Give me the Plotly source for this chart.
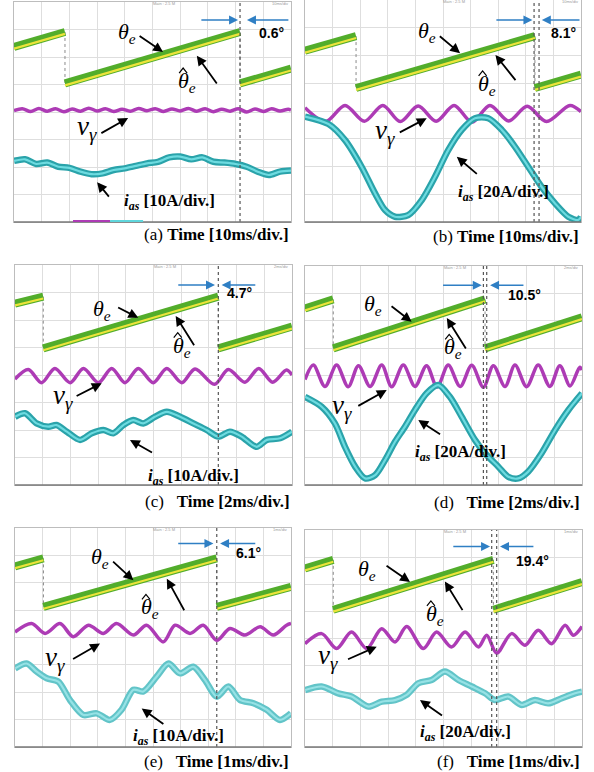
import plotly.graph_objects as go

W, H = 594, 772

# ---------------- data (oscilloscope divisions: x 0..10, y 0..8) ----------------
panel_ids = ["a", "b", "c", "d", "e", "f"]

# rotor angle sawtooth θe (segments separated by None)
a_theta_x = [0, 1.84, None, 1.84, 8.16, None, 8.16, 10]
a_theta_y = [6.37, 6.91, None, 5.04, 6.91, None, 5.04, 5.58]
b_theta_x = [0, 1.85, None, 1.85, 8.33, None, 8.33, 10]
b_theta_y = [6.17, 6.70, None, 4.83, 6.70, None, 4.83, 5.31]
c_theta_x = [0, 1.02, None, 1.02, 7.34, None, 7.34, 10]
c_theta_y = [6.60, 6.85, None, 4.97, 6.85, None, 4.97, 5.76]
d_theta_x = [0, 1.02, None, 1.02, 6.50, None, 6.50, 10]
d_theta_y = [6.45, 6.78, None, 4.99, 6.78, None, 4.99, 6.13]
e_theta_x = [0, 1.03, None, 1.03, 7.31, None, 7.31, 10]
e_theta_y = [6.60, 6.89, None, 5.12, 6.89, None, 5.12, 5.85]
f_theta_x = [0, 1.02, None, 1.02, 6.80, None, 6.80, 10]
f_theta_y = [6.58, 6.90, None, 5.06, 6.90, None, 5.06, 6.08]

# v_gamma (purple)
a_vy_x = [0, 0.3, 0.6, 0.9, 1.2, 1.5, 1.8, 2.1, 2.4, 2.7, 3.0, 3.3, 3.6, 3.9, 4.2, 4.5, 4.8,
          5.1, 5.4, 5.7, 6.0, 6.3, 6.6, 6.9, 7.2, 7.5, 7.8, 8.1, 8.4, 8.7, 9.0, 9.3, 9.6, 9.9, 10]
a_vy_y = [4.05, 4.12, 4.02, 4.13, 4.03, 4.12, 4.01, 4.11, 4.03, 4.14, 4.04, 4.12, 4.02, 4.10,
          4.03, 4.13, 4.05, 4.12, 4.02, 4.11, 4.04, 4.13, 4.03, 4.12, 4.01, 4.10, 4.03, 4.12,
          4.00, 4.11, 4.02, 4.12, 4.04, 4.10, 4.07]
b_vy_x = [0, 0.75, 1.45, 2.15, 2.82, 3.45, 4.1, 4.75, 5.4, 6.05, 6.7, 7.38, 8.05, 8.75, 9.6, 10]
b_vy_y = [4.12, 3.62, 4.20, 3.63, 4.20, 3.62, 4.18, 3.63, 4.20, 3.60, 4.20, 3.64, 4.17, 3.62, 4.20, 3.98]
c_vy_x = [0, 0.48, 0.96, 1.44, 1.99, 2.47, 3.01, 3.49, 3.97, 4.45, 4.99, 5.48, 6.02, 6.5,
          7.2, 7.7, 8.3, 8.8, 9.3, 9.8, 10]
c_vy_y = [3.85, 4.20, 3.72, 4.24, 3.72, 4.24, 3.72, 4.24, 3.72, 4.24, 3.72, 4.24, 3.72, 4.22,
          3.66, 4.20, 3.74, 4.24, 3.74, 4.18, 4.00]
d_vy_x = [0, 0.30, 0.72, 1.14, 1.56, 1.93, 2.35, 2.77, 3.13, 3.55, 3.97, 4.39, 4.77, 5.17,
          5.6, 6.02, 6.44, 6.8, 7.22, 7.58, 8.0, 8.42, 8.84, 9.2, 9.57, 9.92, 10]
d_vy_y = [3.85, 4.38, 3.60, 4.38, 3.59, 4.36, 3.60, 4.38, 3.59, 4.38, 3.60, 4.36, 3.58, 4.38,
          3.60, 4.37, 3.57, 4.36, 3.60, 4.38, 3.59, 4.38, 3.60, 4.36, 3.62, 4.30, 4.20]
e_vy_x = [0, 0.6, 1.09, 1.63, 2.11, 2.66, 3.2, 3.68, 4.29, 4.77, 5.37, 5.8, 6.34, 6.82,
          7.31, 7.79, 8.33, 8.88, 9.36, 9.84, 10]
e_vy_y = [4.20, 4.51, 4.15, 4.51, 4.03, 4.45, 4.15, 4.51, 4.09, 4.45, 3.84, 4.45, 4.15, 4.45,
          3.90, 4.33, 4.09, 4.39, 4.09, 4.45, 4.51]
f_vy_x = [0, 0.6, 1.14, 1.68, 2.23, 2.77, 3.25, 3.67, 4.27, 4.75, 5.29, 5.78, 6.26, 6.56,
          6.92, 7.46, 7.94, 8.42, 8.9, 9.39, 9.69, 10]
f_vy_y = [3.81, 4.18, 3.63, 4.24, 3.63, 4.36, 3.87, 4.44, 3.63, 4.24, 3.69, 4.24, 3.69, 4.12,
          3.46, 4.18, 3.75, 4.30, 3.81, 4.49, 4.12, 4.44]

# phase current i_as (cyan)
a_ias_x = [0, 0.4, 0.8, 1.2, 1.6, 2.0, 2.4, 2.8, 3.2, 3.6, 4.0, 4.4, 4.8, 5.2, 5.6, 6.0, 6.4,
           6.8, 7.2, 7.6, 8.0, 8.4, 8.8, 9.2, 9.6, 10]
a_ias_y = [2.22, 2.28, 2.11, 2.16, 2.01, 1.97, 1.83, 1.74, 1.77, 1.89, 1.95, 2.04, 2.13, 2.19,
           2.35, 2.38, 2.28, 2.35, 2.19, 2.16, 2.11, 2.01, 1.83, 1.71, 1.83, 1.87]
b_ias_x = [0, 0.85, 1.45, 2.05, 2.54, 2.90, 3.26, 3.74, 4.23, 4.71, 5.19, 5.68, 6.16, 6.64,
           7.13, 7.61, 8.09, 8.57, 9.06, 9.54, 9.90, 10]
b_ias_y = [3.80, 3.53, 2.95, 1.99, 1.03, 0.43, 0.19, 0.25, 0.79, 1.63, 2.59, 3.32, 3.74, 3.74,
           3.32, 2.71, 1.99, 1.27, 0.67, 0.19, 0.07, 0.19]
c_ias_x = [0, 0.36, 0.78, 1.2, 1.5, 1.87, 2.35, 2.77, 3.19, 3.55, 3.91, 4.27, 4.63, 5.05,
           5.48, 5.96, 6.44, 6.92, 7.34, 7.76, 8.18, 8.72, 9.09, 9.57, 10]
c_ias_y = [2.48, 2.61, 2.24, 2.12, 2.18, 1.94, 1.64, 1.88, 2.00, 1.88, 2.18, 2.36, 2.24, 2.48,
           2.66, 2.48, 2.24, 2.00, 1.76, 1.94, 1.76, 1.39, 1.64, 1.70, 1.94]
d_ias_x = [0, 0.6, 1.08, 1.44, 1.81, 2.17, 2.53, 2.89, 3.25, 3.61, 3.97, 4.39, 4.81, 5.23,
           5.66, 6.14, 6.5, 6.98, 7.34, 7.7, 8.06, 8.54, 9.03, 9.51, 10]
d_ias_y = [3.22, 2.86, 2.25, 1.40, 0.67, 0.24, 0.36, 0.91, 1.58, 2.13, 2.74, 3.35, 3.65, 3.22,
           2.49, 1.64, 1.16, 0.67, 0.30, 0.24, 0.49, 1.16, 2.01, 2.74, 3.35]
e_ias_x = [0, 0.42, 0.79, 1.15, 1.57, 1.99, 2.48, 2.96, 3.44, 3.86, 4.29, 4.65, 5.13, 5.56,
           5.98, 6.46, 6.88, 7.31, 7.73, 8.15, 8.64, 9.12, 9.6, 10]
e_ias_y = [2.87, 3.05, 2.75, 2.51, 2.39, 1.72, 1.17, 1.23, 0.99, 1.36, 2.09, 2.03, 2.57, 3.05,
           2.69, 2.93, 2.45, 1.84, 2.21, 1.72, 1.60, 1.36, 0.99, 1.23]
f_ias_x = [0, 0.6, 1.2, 1.68, 2.29, 2.77, 3.25, 3.67, 4.09, 4.57, 5.05, 5.54, 6.02, 6.5,
           6.86, 7.34, 7.82, 8.3, 8.78, 9.27, 9.75, 10]
f_ias_y = [2.10, 2.23, 1.98, 1.86, 1.49, 1.67, 1.73, 1.92, 2.35, 2.47, 2.78, 2.47, 2.23, 1.98,
           1.73, 1.86, 1.55, 1.73, 1.61, 1.80, 1.98, 2.04]

# cursor positions (divisions)
a_cursor = [8.16]
b_cursor = [8.30, 8.48]
c_cursor = [7.34]
d_cursor = [6.44, 6.56]
e_cursor = [7.31]
f_cursor = [6.74, 6.92]

angle_texts = ["0.6°", "8.1°", "4.7°", "10.5°", "6.1°", "19.4°"]
current_scales = ["10A/div.", "20A/div.", "10A/div.", "20A/div.", "10A/div.", "20A/div."]
time_scales = ["10ms/div.", "10ms/div.", "2ms/div.", "2ms/div.", "1ms/div.", "1ms/div."]

# ---------------- layout / styling ----------------
# panel boxes in pixels: (left, right, top, bottom)
boxes = [(14, 291, 2, 222), (305, 581, 0, 222),
         (15, 292, 265, 485), (305, 582, 266, 485),
         (15, 291, 528, 747), (305, 582, 530, 747)]
caption_y = [235, 237, 501, 502, 761, 761]
caption_gap = ["\u00a0", "\u00a0", "\u00a0\u00a0\u00a0", "\u00a0\u00a0\u00a0",
               "\u00a0\u00a0\u00a0", "\u00a0\u00a0\u00a0"]

# label placement in division coordinates: (text pos, arrow tail, arrow head)
label_pos = {
    "a": dict(th=((4.08, 6.87), (4.48, 6.80), (5.38, 6.18)),
              hat=((6.25, 5.09), (7.36, 4.98), (6.60, 6.05)),
              vy=((2.64, 3.42), (3.10, 3.20), (4.12, 3.78)),
              ias=((5.63, 0.73), (3.47, 0.87), (3.00, 1.45)),
              blue=(7.35, 6.71, 8.09, 9.96, 8.41), ang=(9.30, 6.87)),
    "b": dict(th=((4.41, 6.86), (4.83, 6.74), (5.62, 6.08)),
              hat=((6.58, 4.94), (7.67, 5.06), (6.90, 6.02)),
              vy=((2.90, 3.25), (3.38, 3.20), (4.41, 3.74)),
              ias=((7.19, 1.03), (6.28, 1.69), (5.50, 2.35)),
              blue=(7.28, 6.88, 8.24, 10.0, 8.58), ang=(9.36, 6.80)),
    "c": dict(th=((3.13, 6.38), (3.67, 6.48), (4.45, 6.08)),
              hat=((6.02, 5.03), (6.50, 5.03), (5.80, 6.15)),
              vy=((1.74, 3.21), (2.17, 3.21), (3.13, 3.70)),
              ias=((6.45, 0.30), (5.00, 1.15), (4.15, 1.64)),
              blue=(7.27, 5.84, 7.22, 8.73, 7.46), ang=(8.12, 6.97)),
    "d": dict(th=((2.47, 6.57), (3.07, 6.57), (3.85, 5.96)),
              hat=((5.35, 4.99), (5.84, 4.93), (5.12, 6.10)),
              vy=((1.32, 2.86), (1.87, 2.86), (2.95, 3.47)),
              ias=((5.60, 1.16), (4.93, 1.82), (4.09, 2.37)),
              blue=(7.30, 4.93, 6.38, 7.94, 6.68), ang=(7.94, 6.93)),
    "e": dict(th=((3.08, 6.89), (3.50, 6.82), (4.29, 6.09)),
              hat=((4.89, 5.06), (6.16, 4.94), (5.50, 6.15)),
              vy=((1.45, 3.20), (2.05, 3.18), (3.08, 3.78)),
              ias=((5.91, 0.36), (5.43, 0.80), (4.59, 1.41)),
              blue=(7.43, 5.86, 7.19, 8.76, 7.43), ang=(8.45, 7.07)),
    "f": dict(th=((2.23, 6.53), (2.89, 6.72), (3.79, 6.08)),
              hat=((4.69, 4.87), (5.72, 4.99), (5.05, 6.10)),
              vy=((0.84, 3.33), (1.50, 3.21), (2.59, 3.70)),
              ias=((5.78, 0.50), (5.00, 1.12), (4.15, 1.73)),
              blue=(7.39, 5.30, 6.68, 8.30, 7.04), ang=(8.20, 6.84)),
}

data = {
    "a": (a_theta_x, a_theta_y, a_vy_x, a_vy_y, a_ias_x, a_ias_y, a_cursor),
    "b": (b_theta_x, b_theta_y, b_vy_x, b_vy_y, b_ias_x, b_ias_y, b_cursor),
    "c": (c_theta_x, c_theta_y, c_vy_x, c_vy_y, c_ias_x, c_ias_y, c_cursor),
    "d": (d_theta_x, d_theta_y, d_vy_x, d_vy_y, d_ias_x, d_ias_y, d_cursor),
    "e": (e_theta_x, e_theta_y, e_vy_x, e_vy_y, e_ias_x, e_ias_y, e_cursor),
    "f": (f_theta_x, f_theta_y, f_vy_x, f_vy_y, f_ias_x, f_ias_y, f_cursor),
}

HAT_OFF = 0.07
GREEN, YELLOW = "#52ad2b", "#ece43a"
PURPLE = "#ad3bb5"
CYAN_OUT, CYAN_IN = "#2aa3aa", "#6ddbe0"
CYAN_OUT_L, CYAN_IN_L = "#62c4c8", "#96e2e5"
BLUE = "#2f7fc4"
SERIF = "Liberation Serif"
HAT_PATH = "M -8,9 L -4,14 L 0,9"   # circumflex drawn over θ (pixels around label centre)

fig = go.Figure()
annotations = []
shapes = []
layout_axes = {}

for k, pid in enumerate(panel_ids, start=1):
    tx, ty, vx, vy, ix, iy, cursor = data[pid]
    l, r, t, b = boxes[k - 1]
    xs = "" if k == 1 else str(k)
    xa, ya = "x" + xs, "y" + xs
    common = dict(showgrid=True, gridcolor="#dedede", gridwidth=1, dtick=1,
                  showticklabels=False, ticks="", zeroline=False, showline=True,
                  linecolor="#bdbdbd", linewidth=1, mirror=True, fixedrange=True)
    layout_axes["xaxis" + xs] = dict(domain=[l / W, r / W], range=[0, 10], anchor=ya, tick0=0, **common)
    layout_axes["yaxis" + xs] = dict(domain=[1 - b / H, 1 - t / H], range=[0, 8], anchor=xa, tick0=0, **common)

    light = k >= 5
    # sawtooth reset drops (thin grey)
    rx, ry = [], []
    for i, v in enumerate(tx):
        if v is None:
            rx += [tx[i - 1], tx[i + 1], None]
            ry += [ty[i - 1], ty[i + 1], None]
    fig.add_trace(go.Scatter(x=rx, y=ry, xaxis=xa, yaxis=ya, mode="lines",
                             line=dict(color="#8a8a8a", width=1, dash="dot"), hoverinfo="skip"))
    # v_gamma
    fig.add_trace(go.Scatter(x=vx, y=vy, xaxis=xa, yaxis=ya, mode="lines",
                             line=dict(color=PURPLE, width=3.5, shape="spline", smoothing=0.9),
                             hoverinfo="skip"))
    # i_as
    fig.add_trace(go.Scatter(x=ix, y=iy, xaxis=xa, yaxis=ya, mode="lines",
                             line=dict(color=CYAN_OUT_L if light else CYAN_OUT, width=6.5,
                                       shape="spline", smoothing=0.8), hoverinfo="skip"))
    fig.add_trace(go.Scatter(x=ix, y=iy, xaxis=xa, yaxis=ya, mode="lines",
                             line=dict(color=CYAN_IN_L if light else CYAN_IN, width=2.2,
                                       shape="spline", smoothing=0.8), hoverinfo="skip"))
    # theta_e and estimated theta_e
    fig.add_trace(go.Scatter(x=tx, y=ty, xaxis=xa, yaxis=ya, mode="lines",
                             line=dict(color=GREEN, width=8), hoverinfo="skip"))
    hat_y = [None if v is None else v - HAT_OFF for v in ty]
    fig.add_trace(go.Scatter(x=tx, y=hat_y, xaxis=xa, yaxis=ya, mode="lines",
                             line=dict(color=YELLOW, width=2.2), hoverinfo="skip"))
    # cursor lines
    for c in cursor:
        shapes.append(dict(type="line", xref=xa, yref=ya + " domain", x0=c, x1=c, y0=0, y1=1,
                           line=dict(color="#555555", width=1.2, dash="dot"), layer="above"))
    # darker bottom frame
    shapes.append(dict(type="line", xref=xa + " domain", yref=ya + " domain", x0=0, x1=1, y0=0, y1=0,
                       line=dict(color="#7a7a7a", width=1.5)))
    if pid == "a":
        shapes.append(dict(type="line", xref=xa, yref=ya + " domain", x0=2.13, x1=3.47, y0=0.004, y1=0.004,
                           line=dict(color=PURPLE, width=2)))
        shapes.append(dict(type="line", xref=xa, yref=ya + " domain", x0=3.47, x1=4.66, y0=0.004, y1=0.004,
                           line=dict(color="#5fd6dc", width=2)))

    # tiny scope header texts
    annotations.append(dict(x=5.4, y=7.93, xref=xa, yref=ya, text="Main : 2.5 M", showarrow=False,
                            font=dict(size=4, color="#9a9a9a", family="Liberation Sans")))
    annotations.append(dict(x=9.6, y=7.93, xref=xa, yref=ya, text=time_scales[k - 1].replace(".", ""),
                            showarrow=False, font=dict(size=4, color="#9a9a9a", family="Liberation Sans")))

    lp = label_pos[pid]

    def arrow(tail, head, color="black", width=1.8, size=1.1):
        annotations.append(dict(x=head[0], y=head[1], ax=tail[0], ay=tail[1], xref=xa, yref=ya,
                                axref=xa, ayref=ya, text="", showarrow=True, arrowhead=2,
                                arrowsize=size, arrowwidth=width, arrowcolor=color))

    def label(pos, text, size, family=SERIF, xanchor="center", xshift=0, yshift=0):
        annotations.append(dict(x=pos[0], y=pos[1], xref=xa, yref=ya, text=text, showarrow=False,
                                xanchor=xanchor, yanchor="middle", xshift=xshift, yshift=yshift,
                                font=dict(size=size, color="black", family=family)))

    label(lp["th"][0], "<i>θ</i><sub><i>e</i></sub>", 22)
    arrow(lp["th"][1], lp["th"][2])
    label(lp["hat"][0], "<i>θ</i><sub><i>e</i></sub>", 22)
    shapes.append(dict(type="path", xref=xa, yref=ya, xsizemode="pixel", ysizemode="pixel",
                       xanchor=lp["hat"][0][0], yanchor=lp["hat"][0][1], path=HAT_PATH,
                       line=dict(color="black", width=1.2)))
    arrow(lp["hat"][1], lp["hat"][2])
    label(lp["vy"][0], "<i>v</i><sub><i>γ</i></sub>", 27)
    arrow(lp["vy"][1], lp["vy"][2])
    label(lp["ias"][0], "<b><i>i</i><sub><i>as</i></sub> [" + current_scales[k - 1] + "]</b>", 17)
    arrow(lp["ias"][1], lp["ias"][2])

    by, lt, lh, rt, rh = lp["blue"]
    arrow((lt, by), (lh, by), color=BLUE, width=1.5, size=1.2)
    arrow((rt, by), (rh, by), color=BLUE, width=1.5, size=1.2)
    label(lp["ang"], "<b>" + angle_texts[k - 1] + "</b>", 14, family="Liberation Sans")

    # caption below the panel
    annotations.append(dict(x=r / W, y=1 - caption_y[k - 1] / H, xref="paper", yref="paper",
                            xanchor="right", yanchor="middle", showarrow=False,
                            text="(" + pid + ")" + caption_gap[k - 1] + "<b>Time [" + time_scales[k - 1] + "]</b>",
                            font=dict(size=17, color="black", family=SERIF)))

fig.update_layout(width=W, height=H, margin=dict(l=0, r=0, t=0, b=0),
                  paper_bgcolor="white", plot_bgcolor="white", showlegend=False,
                  annotations=annotations, shapes=shapes, **layout_axes)

fig.write_html("out.html", config={"displayModeBar": False},
               post_script="document.body.style.margin='0px';document.body.style.overflow='hidden';")
